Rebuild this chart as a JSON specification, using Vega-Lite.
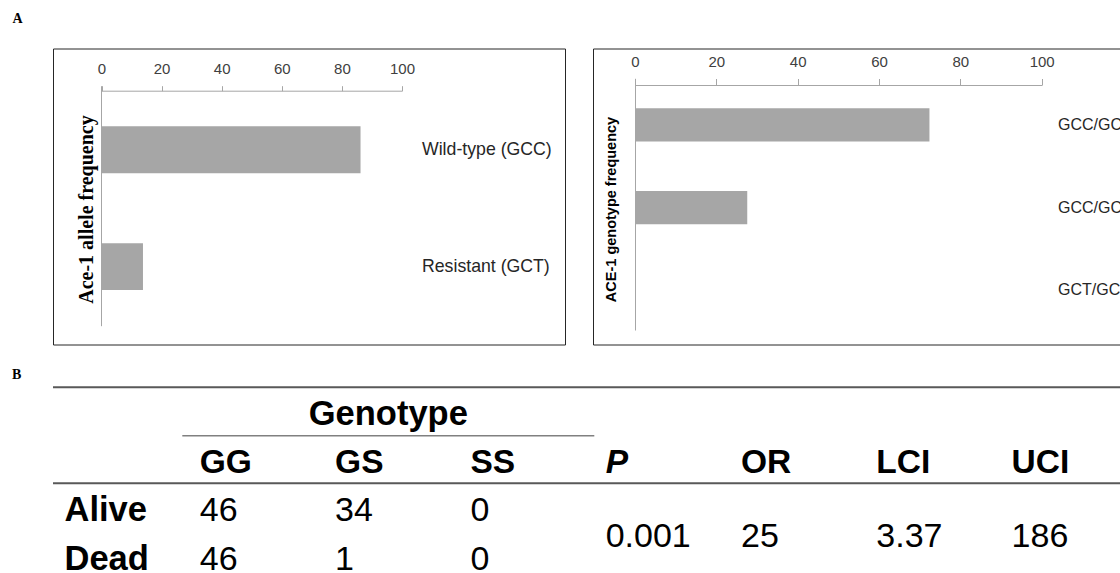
{
  "$schema": "https://vega.github.io/schema/vega-lite/v6.json",
  "padding": {"left": 12, "top": 11.5, "right": 0, "bottom": 0},
  "background": "white",
  "spacing": 21.8,
  "config": {
    "view": {"stroke": "#262626", "strokeWidth": 1},
    "axis": {"domainColor": "#a6a6a6", "tickColor": "#a6a6a6", "labelColor": "#404040", "labelFont": "Liberation Sans", "labelFontSize": 15, "grid": false},
    "title": {"anchor": "start", "font": "Liberation Serif", "fontSize": 14, "fontWeight": "bold", "color": "#000000", "baseline": "alphabetic", "dx": -40}
  },
  "vconcat": [
    {
      "title": {"text": "A", "offset": 21.6},
      "spacing": 26,
      "hconcat": [
        {
          "width": 512,
          "height": 296,
          "data": {"values": [
            {"allele": "Wild-type (GCC)", "frequency": 86.2},
            {"allele": "Resistant (GCT)", "frequency": 13.8}
          ]},
          "encoding": {
            "y": {
              "field": "allele", "type": "nominal", "sort": null,
              "scale": {"range": [37.2, 277.2], "paddingInner": 0.6, "paddingOuter": 0.326, "align": 0.533},
              "axis": {"orient": "left", "offset": -48, "labels": false, "ticks": false, "title": "Ace-1 allele frequency", "titleFont": "Liberation Serif", "titleFontSize": 20, "titleFontWeight": "bold", "titleColor": "#000000", "titlePadding": 5, "titleY": 160.5}
            }
          },
          "layer": [
            {
              "mark": {"type": "bar", "color": "#a6a6a6"},
              "encoding": {
                "x": {"field": "frequency", "type": "quantitative", "scale": {"domain": [0, 100], "range": [48.5, 349]},
                  "axis": {"orient": "top", "offset": -42.2, "values": [0, 20, 40, 60, 80, 100], "tickSize": 5, "labelPadding": 9, "labelFlush": false, "title": null}}
              }
            },
            {
              "mark": {"type": "text", "align": "left", "baseline": "middle", "dx": 20, "font": "Liberation Sans", "fontSize": 17.7, "color": "#262626", "clip": true},
              "encoding": {
                "x": {"datum": 100, "type": "quantitative"},
                "text": {"field": "allele"}
              }
            }
          ]
        },
        {
          "width": 528,
          "height": 296,
          "data": {"values": [
            {"genotype": "GCC/GCC", "frequency": 72.4},
            {"genotype": "GCC/GCT", "frequency": 27.6},
            {"genotype": "GCT/GCT", "frequency": 0}
          ]},
          "encoding": {
            "y": {
              "field": "genotype", "type": "nominal", "sort": null,
              "scale": {"range": [29.8, 281.5], "paddingInner": 0.6, "paddingOuter": 0.32, "align": 0.566},
              "axis": {"orient": "left", "offset": -42, "labels": false, "ticks": false, "title": "ACE-1 genotype frequency", "titleFont": "Liberation Sans", "titleFontSize": 14.5, "titleFontWeight": "bold", "titleColor": "#000000", "titlePadding": 17, "titleY": 160.5}
            }
          },
          "layer": [
            {
              "mark": {"type": "bar", "color": "#a6a6a6"},
              "encoding": {
                "x": {"field": "frequency", "type": "quantitative", "scale": {"domain": [0, 100], "range": [42, 448.7]},
                  "axis": {"orient": "top", "offset": -36.5, "values": [0, 20, 40, 60, 80, 100], "tickSize": 6.5, "labelPadding": 9, "labelFlush": false, "title": null}}
              }
            },
            {
              "mark": {"type": "text", "align": "left", "baseline": "middle", "dx": 16.3, "font": "Liberation Sans", "fontSize": 16, "color": "#262626", "clip": true},
              "encoding": {
                "x": {"datum": 100, "type": "quantitative"},
                "text": {"field": "genotype"}
              }
            }
          ]
        }
      ]
    },
    {
      "width": 1067,
      "height": 185,
      "title": {"text": "B", "offset": 4.6},
      "view": {"stroke": null},
      "data": {"values": [
        {"row": "Genotype", "col": "GS", "label": "Genotype"},
        {"row": "Header", "col": "GG", "label": "GG"},
        {"row": "Header", "col": "GS", "label": "GS"},
        {"row": "Header", "col": "SS", "label": "SS"},
        {"row": "Header", "col": "P", "label": "P"},
        {"row": "Header", "col": "OR", "label": "OR"},
        {"row": "Header", "col": "LCI", "label": "LCI"},
        {"row": "Header", "col": "UCI", "label": "UCI"},
        {"row": "Alive", "col": "row", "label": "Alive"},
        {"row": "Dead", "col": "row", "label": "Dead"},
        {"row": "Alive", "col": "GG", "label": "46"},
        {"row": "Alive", "col": "GS", "label": "34"},
        {"row": "Alive", "col": "SS", "label": "0"},
        {"row": "Dead", "col": "GG", "label": "46"},
        {"row": "Dead", "col": "GS", "label": "1"},
        {"row": "Dead", "col": "SS", "label": "0"},
        {"row": "Both", "col": "P", "label": "0.001"},
        {"row": "Both", "col": "OR", "label": "25"},
        {"row": "Both", "col": "LCI", "label": "3.37"},
        {"row": "Both", "col": "UCI", "label": "186"}
      ]},
      "layer": [
        {
          "data": {"values": [{}]},
          "mark": {"type": "rule", "color": "#595959", "strokeWidth": 2, "yOffset": -37.7},
          "encoding": {
            "y": {"datum": "Genotype", "type": "nominal", "scale": {"domain": ["Genotype", "Header", "Alive", "Dead"], "type": "point", "range": [37.7, 182.3], "padding": 0}, "axis": null}
          }
        },
        {
          "data": {"values": [{}]},
          "mark": {"type": "rule", "color": "#595959", "strokeWidth": 2, "yOffset": 10.1},
          "encoding": {
            "y": {"datum": "Header", "type": "nominal"}
          }
        },
        {
          "data": {"values": [{}]},
          "mark": {"type": "rule", "color": "#808080", "strokeWidth": 1.5, "yOffset": 10.7, "xOffset": -17.5, "x2Offset": -11.4},
          "encoding": {
            "x": {"datum": "GG", "type": "nominal", "scale": {"domain": ["row", "GG", "GS", "SS", "P", "OR", "LCI", "UCI"], "type": "point", "range": [11.5, 958.6], "padding": 0}, "axis": null},
            "x2": {"datum": "P"},
            "y": {"datum": "Genotype", "type": "nominal"}
          }
        },
        {
          "transform": [{"filter": "datum.row === 'Genotype'"}],
          "mark": {"type": "text", "align": "center", "baseline": "alphabetic", "dx": 53.2, "font": "Liberation Sans", "fontSize": 34.5, "fontWeight": "bold", "color": "#000000", "clip": true},
          "encoding": {
            "x": {"field": "col", "type": "nominal"},
            "y": {"field": "row", "type": "nominal"},
            "text": {"field": "label"}
          }
        },
        {
          "transform": [{"filter": "datum.row === 'Header' && datum.col !== 'P'"}],
          "mark": {"type": "text", "align": "left", "baseline": "alphabetic", "font": "Liberation Sans", "fontSize": 33.5, "fontWeight": "bold", "color": "#000000", "clip": true},
          "encoding": {
            "x": {"field": "col", "type": "nominal"},
            "y": {"field": "row", "type": "nominal"},
            "text": {"field": "label"}
          }
        },
        {
          "transform": [{"filter": "datum.row === 'Header' && datum.col === 'P'"}],
          "mark": {"type": "text", "align": "left", "baseline": "alphabetic", "font": "Liberation Sans", "fontSize": 33.5, "fontWeight": "bold", "fontStyle": "italic", "color": "#000000", "clip": true},
          "encoding": {
            "x": {"field": "col", "type": "nominal"},
            "y": {"field": "row", "type": "nominal"},
            "text": {"field": "label"}
          }
        },
        {
          "transform": [{"filter": "datum.col === 'row'"}],
          "mark": {"type": "text", "align": "left", "baseline": "alphabetic", "font": "Liberation Sans", "fontSize": 34.5, "fontWeight": "bold", "color": "#000000", "clip": true},
          "encoding": {
            "x": {"field": "col", "type": "nominal"},
            "y": {"field": "row", "type": "nominal"},
            "text": {"field": "label"}
          }
        },
        {
          "transform": [{"filter": "(datum.row === 'Alive' || datum.row === 'Dead') && datum.col !== 'row'"}],
          "mark": {"type": "text", "align": "left", "baseline": "alphabetic", "font": "Liberation Sans", "fontSize": 34, "color": "#000000", "clip": true},
          "encoding": {
            "x": {"field": "col", "type": "nominal"},
            "y": {"field": "row", "type": "nominal"},
            "text": {"field": "label"}
          }
        },
        {
          "transform": [{"filter": "datum.row === 'Both'"}],
          "mark": {"type": "text", "align": "left", "baseline": "alphabetic", "dy": 25.3, "font": "Liberation Sans", "fontSize": 34, "color": "#000000", "clip": true},
          "encoding": {
            "x": {"field": "col", "type": "nominal"},
            "y": {"datum": "Alive", "type": "nominal"},
            "text": {"field": "label"}
          }
        }
      ]
    }
  ]
}
